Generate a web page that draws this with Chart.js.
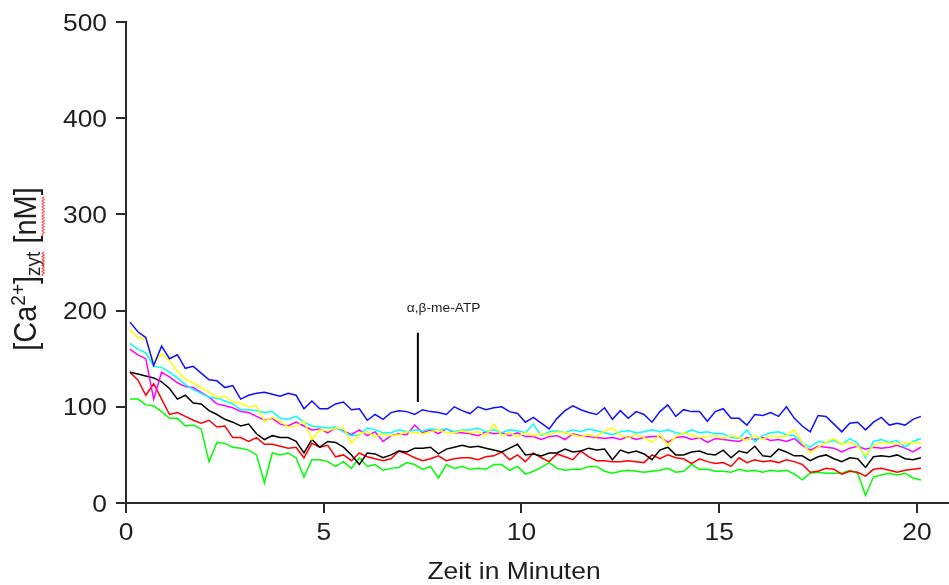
<!DOCTYPE html>
<html>
<head>
<meta charset="utf-8">
<style>
  html, body { margin: 0; padding: 0; background: #fff; overflow: hidden; }
  #wrap { width: 949px; height: 585px; position: relative; }
</style>
<script src="https://cdn.jsdelivr.net/npm/chart.js@4.4.1/dist/chart.umd.min.js"></script>
</head>
<body>
<div id="wrap"><canvas id="c" width="949" height="585"></canvas></div>
<script>
// Sampling times (minutes)
const times = [
  0.1, 0.3, 0.5, 0.7, 0.9, 1.1, 1.3, 1.5, 1.7, 1.9,
  2.1, 2.3, 2.5, 2.7, 2.9, 3.1, 3.3, 3.5, 3.7, 3.9,
  4.1, 4.3, 4.5, 4.7, 4.9, 5.1, 5.3, 5.5, 5.7, 5.9,
  6.1, 6.3, 6.5, 6.7, 6.9, 7.1, 7.3, 7.5, 7.7, 7.9,
  8.1, 8.3, 8.5, 8.7, 8.9, 9.1, 9.3, 9.5, 9.7, 9.9,
  10.1, 10.3, 10.5, 10.7, 10.9, 11.1, 11.3, 11.5, 11.7, 11.9,
  12.1, 12.3, 12.5, 12.7, 12.9, 13.1, 13.3, 13.5, 13.7, 13.9,
  14.1, 14.3, 14.5, 14.7, 14.9, 15.1, 15.3, 15.5, 15.7, 15.9,
  16.1, 16.3, 16.5, 16.7, 16.9, 17.1, 17.3, 17.5, 17.7, 17.9,
  18.1, 18.3, 18.5, 18.7, 18.9, 19.1, 19.3, 19.5, 19.7, 19.9,
  20.1
];

// Axis ticks
const xTickValues = [0, 5, 10, 15, 20];
const yTickValues = [0, 100, 200, 300, 400, 500];

// Cytosolic Ca2+ traces (nM), one per cell
const cellBlue = [
  188, 178, 172, 143, 163, 150, 154, 140, 142, 135,
  128, 127, 120, 122, 108, 112, 114, 115, 113, 111,
  114, 112, 98, 106, 98, 98, 103, 105, 97, 98,
  86, 92, 87, 94, 96, 95, 92, 97, 95, 94,
  92, 100, 96, 93, 100, 97, 99, 100, 95, 93,
  84, 89, 83, 77, 88, 96, 101, 97, 94, 92,
  99, 87, 96, 88, 95, 92, 84, 95, 102, 90,
  97, 95, 95, 85, 95, 98, 88, 88, 81, 92,
  91, 94, 90, 100, 88, 80, 74, 91, 90, 82,
  74, 83, 84, 76, 84, 89, 81, 83, 81, 87,
  90
];
const cellYellow = [
  180, 172, 170, 146, 155, 148, 137, 129, 125, 120,
  115, 110, 111, 105, 104, 100, 101, 85, 89, 85,
  79, 80, 85, 66, 76, 75, 78, 78, 62, 72,
  74, 69, 72, 70, 71, 74, 73, 72, 74, 76,
  73, 73, 75, 73, 74, 70, 82, 70, 73, 69,
  73, 70, 72, 71, 74, 73, 71, 69, 71, 69,
  75, 78, 70, 68, 71, 68, 63, 71, 60, 69,
  73, 71, 68, 69, 70, 67, 70, 68, 65, 70,
  66, 70, 69, 70, 76, 63, 52, 58, 63, 67,
  61, 63, 59, 49, 60, 63, 62, 61, 62, 63,
  62
];
const cellCyan = [
  166, 160, 156, 142, 141, 136, 130, 123, 118, 114,
  110, 109, 106, 103, 97, 97, 96, 94, 95, 88,
  87, 90, 84, 80, 79, 78, 79, 74, 70, 71,
  78, 76, 73, 73, 76, 74, 76, 75, 77, 76,
  77, 74, 76, 76, 78, 74, 76, 73, 76, 75,
  73, 82, 70, 74, 75, 73, 76, 74, 77, 75,
  73, 71, 74, 75, 73, 74, 76, 74, 76, 73,
  72, 76, 73, 74, 72, 72, 68, 67, 76, 64,
  70, 73, 74, 71, 70, 62, 58, 64, 63, 65,
  61, 67, 62, 47, 64, 66, 63, 65, 58, 64,
  67
];
const cellMagenta = [
  160, 154, 150, 108, 136, 131, 125, 121, 120, 115,
  110, 103, 101, 99, 95, 94, 90, 86, 88, 82,
  80, 84, 80, 76, 77, 73, 78, 75, 71, 76,
  70, 74, 64, 70, 72, 71, 81, 73, 76, 72,
  77, 73, 73, 72, 70, 74, 72, 73, 70, 73,
  69, 69, 66, 69, 70, 66, 72, 70, 69, 68,
  67, 68, 66, 69, 66, 68, 69, 69, 63, 68,
  69, 66, 68, 63, 67, 66, 65, 64, 68, 66,
  68, 65, 66, 64, 67, 60, 55, 59, 58, 57,
  53, 57, 59, 56, 58, 57, 58, 60, 57, 53,
  58
];
const cellBlack = [
  136, 134, 132, 130, 126, 119, 108, 112, 104, 103,
  96, 92, 87, 84, 80, 82, 72, 66, 70, 68,
  68, 64, 52, 66, 58, 64, 63, 58, 50, 40,
  52, 51, 47, 50, 54, 53, 57, 57, 58, 51,
  56, 58, 60, 58, 59, 57, 55, 53, 57, 61,
  50, 51, 49, 52, 52, 56, 53, 54, 57, 55,
  56, 45, 55, 52, 54, 51, 45, 55, 58, 50,
  50, 53, 54, 51, 50, 55, 47, 54, 52, 59,
  49, 48, 56, 53, 49, 49, 44, 48, 50, 46,
  43, 47, 46, 37, 48, 49, 48, 50, 46, 45,
  47
];
const cellRed = [
  136, 128, 112, 124, 108, 92, 94, 90, 86, 83,
  86, 79, 80, 68, 68, 64, 68, 61, 61, 59,
  57, 58, 47, 62, 58, 60, 48, 50, 44, 52,
  48, 46, 44, 46, 54, 51, 47, 44, 46, 49,
  44, 46, 47, 47, 45, 48, 49, 53, 45, 50,
  43, 52, 47, 43, 51, 48, 45, 54, 48, 44,
  44, 43, 43, 44, 43, 42, 50, 46, 50, 47,
  46, 41, 46, 43, 41, 42, 38, 47, 42, 45,
  43, 44, 42, 45, 43, 40, 32, 33, 36, 35,
  30, 33, 32, 28, 35, 36, 34, 32, 34, 35,
  36
];
const cellGreen = [
  108, 108, 102, 101, 95, 88, 88, 80, 81, 77,
  43, 63, 62, 58, 57, 55, 50, 21, 52, 50,
  52, 47, 27, 45, 45, 43, 38, 43, 36, 47,
  38, 40, 34, 36, 37, 42, 40, 35, 38, 26,
  40, 36, 38, 35, 36, 35, 40, 40, 34, 38,
  30, 33, 37, 42, 36, 34, 35, 35, 38, 38,
  33, 31, 33, 34, 33, 32, 33, 34, 36, 32,
  33, 40, 35, 35, 33, 33, 32, 35, 33, 34,
  32, 34, 33, 34, 30, 24, 31, 32, 31, 31,
  31, 34, 31, 8, 27, 29, 31, 29, 31, 26,
  24
];

// Agonist application marker
const markerLabel = 'α,β-me-ATP';
const markerTime = 7.38;
const markerRange = [105, 177];
const markerTextAt = [7.1, 199];

const AXIS = '#2a2a2a';
const TEXT = '#1e1e1e';
const FONT = "'Liberation Sans', Arial, sans-serif";
const SX = 1.1; // horizontal text stretch

const series = [
  { data: cellBlue, color: '#1010ff' },
  { data: cellYellow, color: '#ffff00' },
  { data: cellCyan, color: '#00ffff' },
  { data: cellMagenta, color: '#ff00ff' },
  { data: cellBlack, color: '#000000' },
  { data: cellRed, color: '#ff0000' },
  { data: cellGreen, color: '#00ff00' }
];

function stretchedText(ctx, str, x, y, size, align) {
  ctx.save();
  ctx.translate(x, y);
  ctx.scale(SX, 1);
  ctx.font = size + 'px ' + FONT;
  ctx.textAlign = align;
  ctx.textBaseline = 'alphabetic';
  ctx.fillStyle = TEXT;
  ctx.fillText(str, 0, 0);
  ctx.restore();
}

function squiggle(ctx, u0, u1, v) {
  ctx.save();
  ctx.strokeStyle = '#ff3a3a';
  ctx.lineWidth = 1;
  ctx.beginPath();
  let up = true;
  ctx.moveTo(u0, v);
  for (let u = u0 + 1.5; u <= u1; u += 1.5) {
    ctx.lineTo(u, v + (up ? -1 : 1));
    up = !up;
  }
  ctx.stroke();
  ctx.restore();
}

const labelsPlugin = {
  id: 'labels',
  afterDraw(chart) {
    const ctx = chart.ctx;
    const xs = chart.scales.x, ys = chart.scales.y;
    const area = chart.chartArea;

    // tick labels
    yTickValues.forEach(v => {
      stretchedText(ctx, String(v), area.left - 19, ys.getPixelForValue(v) + 8.5, 24, 'right');
    });
    xTickValues.forEach(v => {
      stretchedText(ctx, String(v), xs.getPixelForValue(v), area.bottom + 37, 24, 'center');
    });

    // x title
    stretchedText(ctx, 'Zeit in Minuten', area.left + 388, area.bottom + 76, 24, 'center');

    // y title with superscript / subscript
    const parts = [
      { t: '[Ca', s: 29, dy: 0 },
      { t: '2+', s: 19, dy: -10 },
      { t: ']', s: 29, dy: 0 },
      { t: 'zyt', s: 19, dy: 4, mark: true },
      { t: ' [', s: 29, dy: 0 },
      { t: 'nM', s: 29, dy: 0, mark: true },
      { t: ']', s: 29, dy: 0 }
    ];
    ctx.save();
    ctx.translate(36, area.top + 247);
    ctx.rotate(-Math.PI / 2);
    ctx.scale(1, SX);
    ctx.fillStyle = TEXT;
    ctx.textBaseline = 'alphabetic';
    ctx.textAlign = 'left';
    let total = 0;
    parts.forEach(p => { ctx.font = p.s + 'px ' + FONT; p.w = ctx.measureText(p.t).width; total += p.w; });
    let u = -total / 2;
    parts.forEach(p => {
      ctx.font = p.s + 'px ' + FONT;
      ctx.fillText(p.t, u, p.dy);
      if (p.mark) squiggle(ctx, u, u + p.w, 6.5);
      u += p.w;
    });
    ctx.restore();

    // agonist marker
    const mx = xs.getPixelForValue(markerTime);
    ctx.save();
    ctx.strokeStyle = '#000';
    ctx.lineWidth = 2;
    ctx.beginPath();
    ctx.moveTo(mx, ys.getPixelForValue(markerRange[0]));
    ctx.lineTo(mx, ys.getPixelForValue(markerRange[1]));
    ctx.stroke();
    ctx.restore();
    stretchedText(ctx, markerLabel, xs.getPixelForValue(markerTextAt[0]), ys.getPixelForValue(markerTextAt[1]), 12.5, 'left');
  }
};

new Chart(document.getElementById('c'), {
  type: 'line',
  data: {
    datasets: series.map(s => ({
      data: s.data.map((v, i) => ({ x: times[i], y: v })),
      borderColor: s.color,
      backgroundColor: s.color,
      borderWidth: 1.5,
      pointRadius: 0,
      tension: 0,
      fill: false
    }))
  },
  options: {
    responsive: false,
    animation: false,
    devicePixelRatio: 1,
    layout: { padding: { top: 22, right: 0, bottom: 0, left: 0 } },
    plugins: { legend: { display: false }, tooltip: { enabled: false } },
    scales: {
      x: {
        type: 'linear',
        min: 0,
        max: 20.81,
        afterBuildTicks: s => { s.ticks = xTickValues.map(v => ({ value: v })); },
        afterFit: s => { s.height = 82; },
        ticks: { display: false },
        grid: { drawOnChartArea: false, drawTicks: true, tickLength: 10, tickWidth: 2, tickColor: AXIS, color: AXIS, lineWidth: 2 },
        border: { display: true, color: AXIS, width: 2 }
      },
      y: {
        type: 'linear',
        min: 0,
        max: 500,
        afterBuildTicks: s => { s.ticks = yTickValues.map(v => ({ value: v })); },
        afterFit: s => { s.width = 126; },
        ticks: { display: false },
        grid: { drawOnChartArea: false, drawTicks: true, tickLength: 10, tickWidth: 2, tickColor: AXIS, color: AXIS, lineWidth: 2 },
        border: { display: true, color: AXIS, width: 2 }
      }
    }
  },
  plugins: [labelsPlugin]
});
</script>
</body>
</html>
